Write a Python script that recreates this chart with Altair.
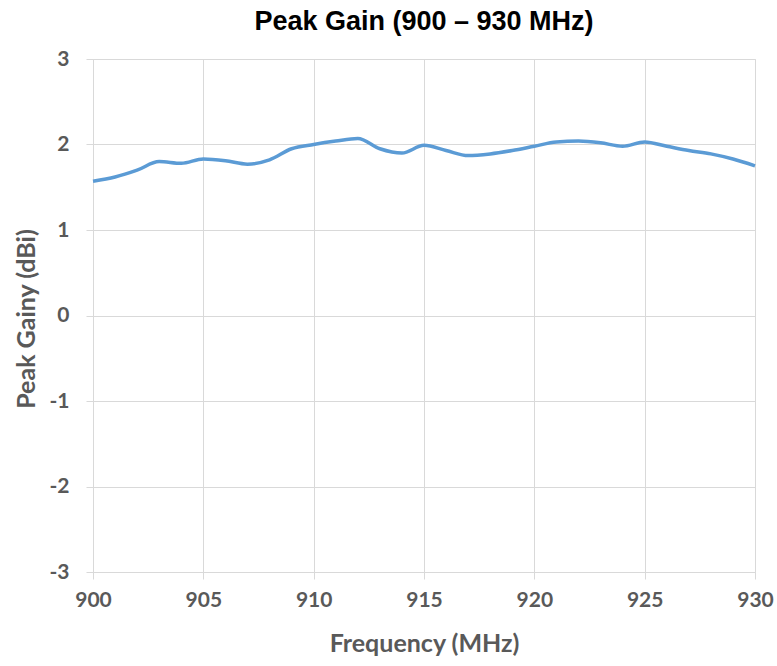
import altair as alt
import pandas as pd

freq = list(range(900, 931))
gain = [1.57, 1.62, 1.70, 1.80, 1.78, 1.83, 1.81, 1.77, 1.82, 1.95,
        2.00, 2.04, 2.07, 1.95, 1.90, 1.99, 1.93, 1.87, 1.89, 1.93,
        1.98, 2.03, 2.04, 2.02, 1.98, 2.03, 1.98, 1.93, 1.89, 1.83, 1.75]

df = pd.DataFrame({"freq": freq, "gain": gain})

W, H = 662, 513
label_color = "#595959"
grid_color = "#d9d9d9"
font = "Lato"

chart = alt.Chart(df).mark_line(
    color="#5B9BD5", strokeWidth=3.5, interpolate="monotone"
).encode(
    x=alt.X("freq:Q", scale=alt.Scale(domain=[900, 930], nice=False),
            axis=alt.Axis(title="Frequency (MHz)", values=[900, 905, 910, 915, 920, 925, 930],
                          format="d", grid=True, gridColor=grid_color, domain=False,
                          ticks=True, tickColor=grid_color, tickSize=7, labelFlush=False,
                          labelFont=font, labelFontSize=21, labelFontWeight="bold",
                          labelColor=label_color, labelPadding=10,
                          titleFont=font, titleFontSize=25, titleFontWeight="bold",
                          titleColor=label_color, titleX=W / 2, titleY=71,
                          titleBaseline="middle")),
    y=alt.Y("gain:Q", scale=alt.Scale(domain=[-3, 3], nice=False),
            axis=alt.Axis(title="Peak Gainy (dBi)", values=[-3, -2, -1, 0, 1, 2, 3],
                          labelExpr="replace(format(datum.value, 'd'), '−', '-')",
                          grid=True, gridColor=grid_color, domain=False,
                          ticks=True, tickColor=grid_color, tickSize=7, labelFlush=False,
                          labelFont=font, labelFontSize=21, labelFontWeight="bold",
                          labelColor=label_color, labelPadding=17,
                          titleFont=font, titleFontSize=25, titleFontWeight="bold",
                          titleColor=label_color, titleX=-67, titleY=H / 2 + 3,
                          titleAngle=-90, titleAlign="center", titleBaseline="middle")),
).properties(
    width=W, height=H,
    title=alt.TitleParams("Peak Gain (900 – 930 MHz)", font="Liberation Sans",
                          fontSize=27, fontWeight="bold", color="#000000",
                          anchor="middle", offset=12),
    autosize=alt.AutoSizeParams(type="none"),
    padding={"left": 93, "top": 59, "right": 22, "bottom": 94},
).configure_view(stroke=None).configure(background="white")

chart.save("out.html", embed_options={"renderer": "svg", "actions": False})
